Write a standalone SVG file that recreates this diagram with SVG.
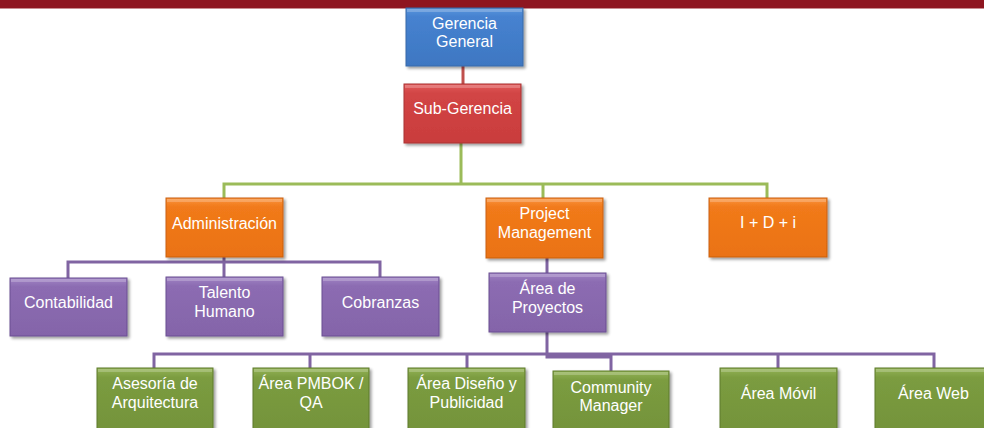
<svg xmlns="http://www.w3.org/2000/svg" width="984" height="428" viewBox="0 0 984 428">
  <style>
    .lbl { font-family: "Liberation Sans", Arial, sans-serif; font-size: 16px; fill: #ffffff; text-anchor: middle; }
    .box { stroke-width: 1; filter: url(#shadow); }
    .blue { fill: url(#gBlue); stroke: #3668a8; }
    .red { fill: url(#gRed); stroke: #a93535; }
    .orange { fill: url(#gOrange); stroke: #c9600e; }
    .purple { fill: url(#gPurple); stroke: #6b4f92; }
    .green { fill: url(#gGreen); stroke: #5f7a2c; }
    .hl { fill: #ffffff; opacity: 0.22; }
    .c-red { stroke: #c0504d; stroke-width: 3; fill: none; }
    .c-green { stroke: #9bbb59; stroke-width: 3; fill: none; }
    .c-purple { stroke: #8064a2; stroke-width: 3; fill: none; }
  </style>
  <defs>
    <filter id="shadow" x="-10%" y="-10%" width="125%" height="130%">
      <feGaussianBlur in="SourceAlpha" stdDeviation="1.5"/>
      <feOffset dx="1.5" dy="2" result="b"/>
      <feComponentTransfer><feFuncA type="linear" slope="0.4"/></feComponentTransfer>
      <feMerge><feMergeNode/><feMergeNode in="SourceGraphic"/></feMerge>
    </filter>
    <linearGradient id="gBlue" x1="0" y1="0" x2="0" y2="1">
      <stop offset="0" stop-color="#5b95dc"/><stop offset="0.15" stop-color="#4682d0"/><stop offset="1" stop-color="#3e77c2"/>
    </linearGradient>
    <linearGradient id="gRed" x1="0" y1="0" x2="0" y2="1">
      <stop offset="0" stop-color="#e35c5c"/><stop offset="0.15" stop-color="#d24545"/><stop offset="1" stop-color="#c93c3c"/>
    </linearGradient>
    <linearGradient id="gOrange" x1="0" y1="0" x2="0" y2="1">
      <stop offset="0" stop-color="#fa9440"/><stop offset="0.15" stop-color="#f17a1a"/><stop offset="1" stop-color="#ea7214"/>
    </linearGradient>
    <linearGradient id="gPurple" x1="0" y1="0" x2="0" y2="1">
      <stop offset="0" stop-color="#a083c4"/><stop offset="0.15" stop-color="#8c6cb2"/><stop offset="1" stop-color="#8464a9"/>
    </linearGradient>
    <linearGradient id="gGreen" x1="0" y1="0" x2="0" y2="1">
      <stop offset="0" stop-color="#93b356"/><stop offset="0.15" stop-color="#7b9c40"/><stop offset="1" stop-color="#74933a"/>
    </linearGradient>
  </defs>

  <!-- header band -->
  <rect x="0" y="0" width="984" height="8" fill="#8e1520"/>
  <rect x="0" y="8" width="984" height="1" fill="#c98c90"/>

  <!-- connectors -->
  <g id="connectors">
    <path class="c-red" d="M463 66 V84"/>
    <path class="c-green" d="M461 143 V184 M224 198 V184 H767 V198 M543 184 V198"/>
    <path class="c-purple" d="M224 257 V262 M68 278 V262 H380 V277 M224 262 V277"/>
    <path class="c-purple" d="M547 258 V273"/>
    <path class="c-purple" d="M154 368 V354 H934 V368 M310 354 V368 M467 354 V368 M778 354 V368 M547 332 V357 H611 V371"/>
  </g>

  <g id="gerencia-general">
    <rect class="box blue" x="406" y="8" width="117" height="58"/>
    <rect class="hl" x="407" y="9" width="115" height="3"/>
    <text class="lbl" x="464.5" y="29">Gerencia</text>
    <text class="lbl" x="464.5" y="47">General</text>
  </g>

  <g id="sub-gerencia">
    <rect class="box red" x="404" y="84" width="117" height="59"/>
    <rect class="hl" x="405" y="85" width="115" height="3"/>
    <text class="lbl" x="462.5" y="114">Sub-Gerencia</text>
  </g>

  <g id="administracion">
    <rect class="box orange" x="166" y="198" width="117" height="59"/>
    <rect class="hl" x="167" y="199" width="115" height="3"/>
    <text class="lbl" x="224.5" y="229">Administración</text>
  </g>

  <g id="project-management">
    <rect class="box orange" x="486" y="198" width="117" height="60"/>
    <rect class="hl" x="487" y="199" width="115" height="3"/>
    <text class="lbl" x="544.5" y="219">Project</text>
    <text class="lbl" x="544.5" y="238">Management</text>
  </g>

  <g id="idi">
    <rect class="box orange" x="709" y="198" width="118" height="59"/>
    <rect class="hl" x="710" y="199" width="116" height="3"/>
    <text class="lbl" x="768" y="228">I + D + i</text>
  </g>

  <g id="contabilidad">
    <rect class="box purple" x="10" y="278" width="117" height="58"/>
    <rect class="hl" x="11" y="279" width="115" height="3"/>
    <text class="lbl" x="68.5" y="308">Contabilidad</text>
  </g>

  <g id="talento-humano">
    <rect class="box purple" x="166" y="277" width="117" height="59"/>
    <rect class="hl" x="167" y="278" width="115" height="3"/>
    <text class="lbl" x="224.5" y="298">Talento</text>
    <text class="lbl" x="224.5" y="317">Humano</text>
  </g>

  <g id="cobranzas">
    <rect class="box purple" x="322" y="277" width="117" height="59"/>
    <rect class="hl" x="323" y="278" width="115" height="3"/>
    <text class="lbl" x="380.5" y="308">Cobranzas</text>
  </g>

  <g id="area-proyectos">
    <rect class="box purple" x="489" y="273" width="117" height="59"/>
    <rect class="hl" x="490" y="274" width="115" height="3"/>
    <text class="lbl" x="547.5" y="294">Área de</text>
    <text class="lbl" x="547.5" y="313">Proyectos</text>
  </g>

  <g id="asesoria-arquitectura">
    <rect class="box green" x="97" y="368" width="116" height="64"/>
    <rect class="hl" x="98" y="369" width="114" height="3"/>
    <text class="lbl" x="155" y="389">Asesoría de</text>
    <text class="lbl" x="155" y="408">Arquitectura</text>
  </g>

  <g id="area-pmbok">
    <rect class="box green" x="253" y="368" width="116" height="64"/>
    <rect class="hl" x="254" y="369" width="114" height="3"/>
    <text class="lbl" x="311" y="389">Área PMBOK /</text>
    <text class="lbl" x="311" y="408">QA</text>
  </g>

  <g id="area-diseno">
    <rect class="box green" x="408" y="368" width="117" height="64"/>
    <rect class="hl" x="409" y="369" width="115" height="3"/>
    <text class="lbl" x="466.5" y="389">Área Diseño y</text>
    <text class="lbl" x="466.5" y="408">Publicidad</text>
  </g>

  <g id="community-manager">
    <rect class="box green" x="553" y="371" width="116" height="61"/>
    <rect class="hl" x="554" y="372" width="114" height="3"/>
    <text class="lbl" x="611" y="393">Community</text>
    <text class="lbl" x="611" y="411">Manager</text>
  </g>

  <g id="area-movil">
    <rect class="box green" x="720" y="368" width="117" height="64"/>
    <rect class="hl" x="721" y="369" width="115" height="3"/>
    <text class="lbl" x="778.5" y="399">Área Móvil</text>
  </g>

  <g id="area-web">
    <rect class="box green" x="875" y="368" width="117" height="64"/>
    <rect class="hl" x="876" y="369" width="115" height="3"/>
    <text class="lbl" x="933.5" y="399">Área Web</text>
  </g>
</svg>
